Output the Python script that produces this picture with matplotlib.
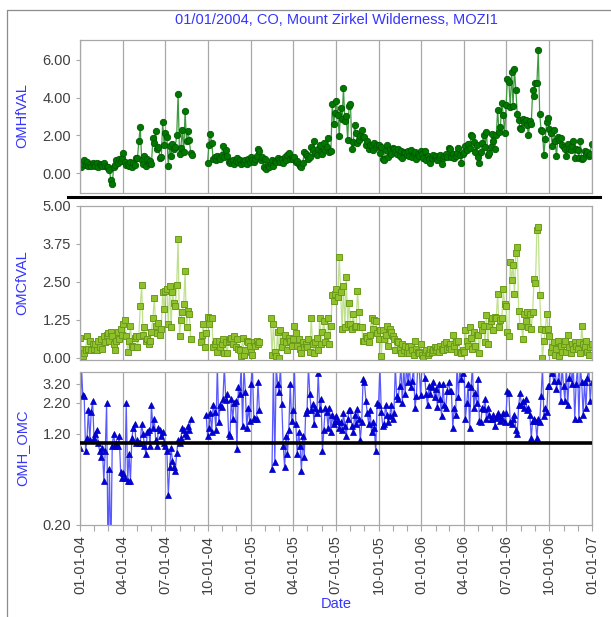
import numpy as np
import pandas as pd
import matplotlib
matplotlib.use("Agg")
import matplotlib.pyplot as plt
import matplotlib.dates as mdates
from matplotlib.lines import Line2D
from matplotlib.ticker import FixedLocator, FixedFormatter, NullLocator

nan = np.nan

# samples every 3rd day, values typed per month (Jan 2004 .. Dec 2006)
sample_dates = pd.date_range("2004-01-01", "2006-12-31", freq="3D")

omh_fval = [
    # 2004
    [0.55, 0.3, 0.5, 0.7, 0.45, 0.6, 0.35, 0.5, 0.4, 0.55, 0.45],
    [0.4, 0.55, 0.3, 0.5, 0.45, 0.35, 0.55, 0.4, 0.3],
    [0.3, 0.15, -0.35, -0.6, 0.3, 0.45, 0.7, 0.55, 0.75, 0.65, 0.8],
    [1.05, 0.6, 0.45, 0.5, 0.35, 0.6, 0.3, 0.55, 0.45, 0.8],
    [0.8, 1.7, 2.45, 0.7, 0.5, 0.9, 0.4, 0.75, 0.55, 0.65],
    [0.5, 1.85, 1.6, 2.25, 1.3, 1.4, 0.8, 0.85, 2.7, 1.5],
    [2.15, 1.9, 0.4, 1.45, 0.9, 1.55, 1.25, 1.4, 2.0, 4.2],
    [1.0, 1.35, 2.3, 1.1, 3.3, 1.7, 2.25, 1.75, 1.05, 0.95, nan],
    [nan, nan, nan, nan, nan, nan, nan, nan, nan, 0.55],
    [1.5, 2.05, 1.6, 0.75, 0.85, 0.7, 0.9, 0.8, 0.75, 0.95],
    [1.45, 0.85, 1.2, 0.9, 0.6, 0.55, 0.65, 0.7, 0.5, 0.65],
    [0.8, 0.6, 0.7, 0.5, 0.65, 0.55, 0.7, 0.5, 0.75, 0.6],
    # 2005
    [0.85, 0.7, 0.6, 0.75, 0.9, 1.3, 1.15, 0.7, 0.85, 0.3, 0.75],
    [0.2, 0.45, 0.3, 0.55, 0.7, 0.35, 0.65, 0.6, 0.8],
    [0.7, 0.6, 0.75, 0.55, 0.85, 0.7, 0.95, 1.05, 0.75, 0.8],
    [0.75, 0.85, 0.6, 0.65, 0.5, 0.4, 0.3, 0.55, 1.1, 1.0],
    [0.9, 0.75, 0.85, 1.4, 1.2, 1.7, 1.05, 0.95, 1.3, 1.5, 1.1],
    [1.0, 1.6, 1.2, 1.4, 1.85, 1.1, 1.15, 3.65, 2.6, 3.2],
    [3.8, 3.1, 1.95, 3.45, 2.85, 4.5, 2.75, 3.0, 1.75, 3.55],
    [3.65, 1.3, 1.65, 2.55, 2.15, 1.6, 1.75, 1.95, 2.3, 1.9],
    [1.9, 1.5, 1.7, 1.3, 1.5, 1.45, 1.2, 1.6, 1.4, 1.5],
    [1.5, 1.05, 1.4, 0.75, 0.7, 1.2, 1.5, 0.85, 1.3, 1.0, 1.35],
    [1.3, 1.1, 1.0, 1.25, 0.9, 1.15, 0.8, 1.1, 1.05, 0.95],
    [1.15, 0.9, 1.2, 0.85, 1.0, 1.1, 0.75, 1.0, 0.9, 1.15],
    # 2006
    [1.0, 0.8, 1.15, 0.7, 0.9, 0.75, 0.55, 0.8, 0.95, 0.85],
    [0.9, 0.7, 0.85, 0.95, 0.5, 0.8, 0.9, 1.0, 0.85, 1.35],
    [1.3, 0.85, 1.0, 0.8, 0.9, 1.05, 1.35, 0.95, 0.55, 1.0],
    [1.1, 1.45, 1.2, 1.55, 1.35, 2.0, 1.95, 1.65, 1.1, 1.5],
    [0.85, 0.55, 1.1, 1.6, 2.0, 1.4, 2.2, 0.95, 1.05, 1.4],
    [2.05, 1.7, 1.3, 2.0, 3.35, 2.2, 2.45, 3.7, 3.1, 2.15],
    [3.6, 5.0, 4.85, 3.5, 5.35, 3.55, 5.5, 4.4, 3.15, 2.8, 2.4],
    [2.35, 2.85, 2.7, 2.8, 2.55, 2.0, 2.75, 2.6, 4.4, 4.1],
    [4.8, 4.75, 6.5, 3.15, 2.3, 2.25, 0.95, 1.8, 2.7, 2.9],
    [2.35, 2.1, 1.45, 2.3, 1.7, 0.9, 1.9, 1.75, 1.85, 1.5],
    [1.4, 1.25, 0.9, 1.55, 1.3, 1.2, 1.45, 1.7, 0.8, 1.3],
    [1.2, 0.8, 1.7, 0.75, 0.8, 1.15, 1.0, 1.1, 0.9, 1.0, 1.55],
]

omc_fval = [
    # 2004
    [0.65, 0.3, 0.05, 0.15, 0.25, 0.7, 0.3, 0.55, 0.25, 0.45, 0.3],
    [0.45, 0.25, 0.55, 0.35, 0.6, 0.3, 0.7, 0.5, 0.75],
    [0.8, 0.55, 0.85, 0.7, 0.45, 0.25, 0.55, 0.85, 0.6, 0.95, 0.75],
    [1.1, 1.25, 0.7, 0.2, 0.55, 1.05, 0.4, 0.35, 0.65, 0.7],
    [0.35, 0.7, 1.7, 2.4, 0.75, 1.0, 0.55, 0.6, 0.45, 0.55],
    [0.85, 1.3, 1.95, 1.05, 0.8, 1.15, 0.75, 0.95, 2.15, 1.6],
    [2.2, 2.25, 1.1, 2.35, 1.0, 2.15, 1.8, 1.7, 2.4, 3.9],
    [0.7, 1.25, 1.5, 1.75, 2.85, 1.0, 1.55, 1.45, 0.6, nan, nan],
    [nan, nan, nan, nan, 0.5, 0.75, 1.1, 0.35, 0.8, 1.35],
    [1.1, 1.3, 1.3, 0.35, 0.45, 0.55, 0.2, 0.55, 0.35, 0.45],
    [0.6, 0.15, 0.5, 0.15, 0.55, 0.6, 0.65, 0.45, 0.7, 0.35],
    [0.6, 0.3, 0.25, 0.05, 0.65, 0.1, 0.25, 0.55, 0.5, 0.4],
    # 2005
    [0.2, 0.1, 0.5, 0.4, 0.55, 0.45, 0.5, nan, nan, nan, nan],
    [nan, nan, nan, 1.3, 0.1, 1.1, 0.2, 0.05, 0.85],
    [0.0, 0.9, 0.35, 0.55, 0.75, 0.5, 0.25, 0.65, 0.55, 0.4],
    [0.6, 1.05, 0.8, 0.4, 0.6, 0.3, 0.15, 0.5, 0.35, 0.45],
    [0.35, 0.6, 0.2, 1.3, 0.45, 0.15, 0.5, 0.65, 0.25, 1.3, 0.45],
    [0.85, 1.2, 0.5, 0.75, 1.3, 0.45, 1.05, 2.05, 1.85, 2.1],
    [2.25, 2.0, 3.3, 2.15, 0.95, 2.35, 1.0, 2.65, 1.1, 1.8],
    [1.1, 0.95, 1.45, 1.0, 1.05, 2.2, 1.5, 1.0, 1.0, 0.55],
    [0.55, 0.7, 0.65, 0.5, 0.75, 1.3, 0.95, 1.25, 1.2, 0.8],
    [0.6, 0.9, 0.05, 0.9, 0.6, 0.75, 1.05, 0.4, 0.95, 0.85, 0.7],
    [0.6, 0.25, 0.55, 0.5, 0.3, 0.15, 0.45, 0.25, 0.4, 0.15],
    [0.35, 0.15, 0.4, 0.25, 0.1, 0.55, 0.3, 0.2, 0.15, 0.45],
    # 2006
    [0.1, 0.0, 0.2, 0.25, 0.1, 0.15, 0.3, 0.2, 0.25, 0.35],
    [0.25, 0.35, 0.2, 0.4, 0.3, 0.25, 0.45, 0.5, 0.3, 0.35],
    [0.45, 0.3, 0.75, 0.4, 0.5, 0.2, 0.55, 0.2, 0.15, 0.25],
    [0.2, 0.9, 0.55, 0.4, 1.0, 0.65, 0.3, 0.85, 0.4, 0.75],
    [0.75, 0.15, 1.1, 0.9, 1.05, 0.5, 1.4, 0.45, 1.05, 1.2],
    [1.3, 0.9, 1.35, 1.3, 2.1, 1.0, 1.25, 1.3, 2.25, 1.75],
    [1.7, 0.85, 0.7, 3.15, 2.55, 3.05, 2.1, 3.45, 3.65, 1.55, 1.05],
    [1.05, 0.6, 1.45, 1.2, 1.5, 1.0, 1.45, 0.95, 1.5, 2.6],
    [2.45, 4.2, 4.3, 2.05, 0.95, 0.0, 0.55, 0.9, 1.45, 0.95],
    [0.7, 0.2, 0.35, 0.5, 0.1, 0.3, 0.55, 0.05, 0.4, 0.2],
    [0.45, 0.55, 0.2, 0.75, 0.35, 0.15, 0.45, 0.3, 0.5, 0.4],
    [0.3, 0.5, 0.15, 1.05, 0.45, 0.35, 0.55, 0.2, 0.1, 0.35, 0.45],
]

omh_omc = [
    # 2004
    [0.9, 4.6, 2.55, 2.5, 0.85, 1.1, 1.9, 1.05, 1.85, 2.3, 1.1],
    [1.2, 1.3, 1.0, 0.85, 0.75, 0.9, 0.47, 0.85, 2.2],
    [0.1, 0.6, 0.1, 0.95, 1.2, 0.95, 1.0, 0.95, 1.15, 0.56, 0.5],
    [0.55, 0.5, 2.2, 0.47, 0.8, 0.47, 1.1, 1.35, 1.45, 1.0],
    [1.05, 1.0, 1.0, 1.45, 1.2, 0.95, 0.8, 1.25, 1.3, 0.95],
    [2.1, 1.35, 1.6, 1.05, 0.95, 1.35, 1.3, 1.15, 1.25, 1.0],
    [0.95, 0.85, 0.36, 0.62, 0.9, 0.7, 0.62, 0.58, 0.82, 1.05],
    [1.0, 1.1, 1.35, 1.3, 1.2, 1.15, 1.4, 1.3, 1.6, nan, nan],
    [nan, nan, nan, nan, nan, nan, nan, nan, 1.75, 1.15],
    [1.35, 1.8, 1.25, 2.1, 1.85, 1.3, 4.5, 1.5, 2.1, 2.05],
    [2.4, 4.5, 2.35, 2.6, 1.2, 1.15, 2.4, 1.6, 2.2, 2.3],
    [0.88, 3.0, 2.6, 4.5, 1.4, 4.5, 2.75, 1.35, 2.0, 1.55],
    # 2005
    [3.2, 4.5, 1.65, 1.6, 1.6, 3.3, 1.9, nan, nan, nan, nan],
    [nan, nan, nan, nan, 0.6, 4.5, 0.68, 4.5, 3.2],
    [2.75, 4.5, 2.15, 0.95, 0.62, 1.15, 0.8, 1.3, 3.2, 1.55],
    [1.9, 4.5, 1.45, 0.8, 1.25, 0.95, 0.58, 1.15, 0.75, 1.8],
    [1.9, 4.5, 2.6, 1.9, 2.15, 1.45, 2.0, 1.8, 4.0, 1.95, 2.4],
    [0.85, 1.3, 2.0, 1.85, 1.35, 2.0, 1.25, 1.75, 1.45, 1.55],
    [1.7, 1.55, 1.35, 1.5, 1.3, 1.8, 1.4, 1.15, 1.6, 1.9],
    [1.9, 1.4, 1.25, 1.75, 1.45, 1.95, 1.6, 1.05, 1.5, 3.5],
    [3.3, 2.3, 1.8, 1.45, 1.9, 1.25, 1.5, 1.35, 0.85, 2.2],
    [2.1, 4.5, 1.85, 1.4, 1.45, 2.1, 1.75, 1.5, 1.7, 2.1, 1.6],
    [1.8, 4.5, 2.5, 2.4, 3.1, 4.5, 2.2, 4.5, 2.6, 4.5],
    [3.3, 4.5, 3.0, 3.4, 4.5, 2.0, 2.5, 4.5, 4.5, 2.55],
    # 2006
    [4.5, 4.5, 3.6, 2.6, 2.1, 3.1, 2.6, 3.0, 3.3, 2.45],
    [2.9, 2.05, 3.2, 2.4, 1.7, 3.2, 2.1, 2.0, 2.8, 3.3],
    [2.8, 2.8, 1.35, 2.0, 1.75, 4.5, 2.45, 4.5, 3.5, 4.0],
    [4.5, 1.6, 2.2, 3.2, 1.35, 3.0, 4.5, 2.0, 2.7, 2.2],
    [3.5, 1.55, 1.5, 2.0, 1.95, 2.4, 1.6, 2.0, 1.75, 1.6],
    [1.6, 1.75, 1.4, 1.65, 1.8, 1.7, 1.55, 1.6, 1.8, 1.5],
    [1.8, 2.8, 2.7, 1.5, 1.45, 1.6, 1.75, 1.3, 1.2, 2.1, 2.7],
    [2.1, 2.3, 2.0, 2.4, 1.9, 2.0, 1.75, 1.1, 1.55, 1.6],
    [1.55, 1.1, 1.6, 1.5, 2.5, 4.5, 1.7, 2.0, 1.85, 3.1],
    [3.1, 4.5, 4.0, 3.4, 4.5, 2.9, 3.4, 4.5, 2.3, 4.5],
    [3.1, 2.3, 4.5, 2.1, 3.6, 4.5, 3.2, 4.5, 1.6, 3.2],
    [4.5, 1.6, 4.5, 3.3, 1.75, 3.3, 2.0, 3.6, 4.5, 2.3, 3.3],
]

title_text = "01/01/2004, CO, Mount Zirkel Wilderness, MOZI1"
omh_ticks = [0.0, 2.0, 4.0, 6.0]
omc_ticks = [0.0, 1.25, 2.5, 3.75, 5.0]
ratio_ticks = [0.2, 1.2, 2.2, 3.2]


def to_series(monthly):
    # put each month's values on that month's sampling days
    months = sample_dates.to_period("M")
    out = []
    for per, vals in zip(months.unique(), monthly):
        n = int((months == per).sum())
        vals = list(vals)[:n]
        out += vals + [nan] * (n - len(vals))
    return np.array(out, dtype=float)


omh = to_series(omh_fval)
omc = to_series(omc_fval)
ratio = to_series(omh_omc)

blue_txt = "#3535ff"
tick_col = "#404040"
frame_col = "#a8a8a8"

plt.rcParams["font.family"] = ["Liberation Sans", "DejaVu Sans"]
plt.rcParams["font.size"] = 10.5

W, H = 611, 617
fig = plt.figure(figsize=(W / 100, H / 100), dpi=100)


def px_axes(top, bottom, left=80, right=592):
    return fig.add_axes([left / W, 1 - bottom / H, (right - left) / W, (bottom - top) / H])


ax1 = px_axes(39.5, 192.5)
ax2 = px_axes(205.7, 360)
ax3 = px_axes(372, 524.5)

x0, x1 = pd.Timestamp("2004-01-01"), pd.Timestamp("2007-01-01")

for ax in (ax1, ax2, ax3):
    ax.set_xlim(x0, x1)
    ax.xaxis.set_major_locator(mdates.MonthLocator(bymonth=[1, 4, 7, 10]))
    ax.xaxis.set_minor_locator(mdates.MonthLocator())
    ax.grid(axis="x", which="major", color=frame_col, lw=0.9)
    for s in ax.spines.values():
        s.set_color(frame_col)
        s.set_linewidth(0.9)
    ax.tick_params(axis="y", colors=frame_col, labelcolor=tick_col, length=3, width=0.8, labelsize=10.5)
    ax.set_axisbelow(True)

for ax in (ax1, ax2):
    ax.tick_params(axis="x", which="both", length=0, labelbottom=False)

# panel 1
ax1.plot(sample_dates, omh, color="#3f9a3f", lw=0.9, marker="o", ms=4.6,
         mfc="#007800", mec="#005800", mew=0.6)
ax1.set_ylim(-1.03, 7.08)
ax1.set_yticks(omh_ticks)
ax1.set_yticklabels(["%.2f" % t for t in omh_ticks])
ax1.set_ylabel("OMHfVAL", color=blue_txt)
ax1.set_title(title_text, color=blue_txt, fontsize=10.5, pad=11)

# panel 2
ax2.plot(sample_dates, omc, color="#bfe08e", lw=0.9, marker="s", ms=4.4,
         mfc="#8fc12a", mec="#6b9a1c", mew=0.7)
ax2.set_ylim(-0.076, 5.0)
ax2.set_yticks(omc_ticks)
ax2.set_yticklabels(["%.2f" % t for t in omc_ticks])
ax2.set_ylabel("OMCfVAL", color=blue_txt)

# panel 3
ax3.plot(sample_dates, ratio, color="#5858ff", lw=0.9, marker="^", ms=5,
         mfc="#0000e0", mec="#0000b0", mew=0.5)
ax3.axhline(1.0, color="black", lw=2.6, zorder=4)
ax3.set_yscale("log")
ax3.set_ylim(0.2, 4.05)
ax3.yaxis.set_major_locator(FixedLocator(ratio_ticks))
ax3.yaxis.set_major_formatter(FixedFormatter(["%.2f" % t for t in ratio_ticks]))
ax3.yaxis.set_minor_locator(NullLocator())
ax3.set_ylabel("OMH_OMC", color=blue_txt)
ax3.xaxis.set_major_formatter(mdates.DateFormatter("%m-%d-%y"))
ax3.tick_params(axis="x", which="both", colors=frame_col, labelcolor=tick_col,
                length=4, width=0.8, labelrotation=90, labelsize=10.5)
ax3.set_xlabel("Date", color=blue_txt, labelpad=2)

# ylabels lined up at the same x (right edge of the rotated text near x=29px)
for ax in (ax1, ax2, ax3):
    ax.yaxis.set_label_coords(-(80 - 29) / 512, 0.5)

# black separator under the first panel, outer frame
fig.add_artist(Line2D([68 / W, 600 / W], [1 - 197 / H] * 2, color="black", lw=2.2))
fig.add_artist(Line2D([7.5 / W, 7.5 / W, 1.0], [0.0, 1 - 10 / H, 1 - 10 / H],
                      color="#8c8c8c", lw=0.9))

fig.savefig("out.png", dpi=100)
